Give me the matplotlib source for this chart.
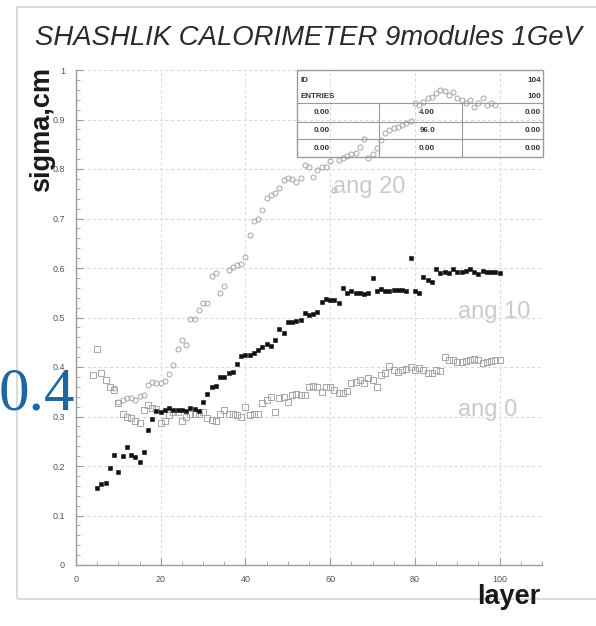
import matplotlib
matplotlib.use("Agg")
import matplotlib.pyplot as plt
from matplotlib.lines import Line2D
from matplotlib.patches import Rectangle

# ---------------- data ----------------
title = "SHASHLIK CALORIMETER 9modules 1GeV"
x_label = "layer"
y_label = "sigma,cm"
x_ticks = [0, 20, 40, 60, 80, 100]
y_ticks = [0, 0.1, 0.2, 0.3, 0.4, 0.5, 0.6, 0.7, 0.8, 0.9, 1.0]
y_tick_labels = ["0", "0.1", "0.2", "0.3", "0.4", "0.5", "0.6", "0.7", "0.8", "0.9", "1"]

ang10_layers = list(range(5, 101))
ang10_sigma = [
    0.155, 0.164, 0.166, 0.195, 0.222, 0.187, 0.221, 0.239, 0.222, 0.218,
    0.209, 0.229, 0.273, 0.294, 0.311, 0.310, 0.313, 0.318, 0.313, 0.313,
    0.314, 0.312, 0.318, 0.316, 0.311, 0.330, 0.345, 0.360, 0.361, 0.379,
    0.380, 0.387, 0.390, 0.407, 0.422, 0.424, 0.424, 0.428, 0.434, 0.441,
    0.446, 0.442, 0.455, 0.476, 0.468, 0.491, 0.491, 0.493, 0.495, 0.510,
    0.505, 0.508, 0.512, 0.532, 0.537, 0.536, 0.536, 0.529, 0.559, 0.549,
    0.554, 0.550, 0.550, 0.548, 0.549, 0.580, 0.554, 0.557, 0.554, 0.553,
    0.555, 0.555, 0.555, 0.553, 0.621, 0.553, 0.549, 0.582, 0.575, 0.572,
    0.597, 0.590, 0.591, 0.589, 0.597, 0.592, 0.592, 0.594, 0.597, 0.592,
    0.588, 0.594, 0.592, 0.592, 0.592, 0.590,
]

ang0_layers = list(range(4, 101))
ang0_sigma = [
    0.384, 0.436, 0.387, 0.374, 0.360, 0.354, 0.328, 0.306, 0.300, 0.297,
    0.290, 0.286, 0.313, 0.323, 0.318, 0.315, 0.286, 0.290, 0.303, 0.310,
    0.310, 0.290, 0.300, 0.306, 0.306, 0.306, 0.310, 0.296, 0.293, 0.290,
    0.306, 0.313, 0.306, 0.306, 0.303, 0.300, 0.320, 0.303, 0.306, 0.306,
    0.327, 0.333, 0.340, 0.310, 0.338, 0.340, 0.330, 0.343, 0.345, 0.343,
    0.343, 0.360, 0.362, 0.360, 0.350, 0.360, 0.360, 0.354, 0.347, 0.347,
    0.352, 0.367, 0.370, 0.374, 0.367, 0.377, 0.374, 0.360, 0.384, 0.387,
    0.402, 0.394, 0.390, 0.394, 0.396, 0.400, 0.394, 0.397, 0.394, 0.387,
    0.387, 0.394, 0.391, 0.421, 0.414, 0.414, 0.411, 0.411, 0.413, 0.415,
    0.416, 0.414, 0.409, 0.411, 0.412, 0.414, 0.414,
]

ang20_layers = list(range(9, 100))
ang20_sigma = [
    0.357, 0.330, 0.333, 0.337, 0.337, 0.333, 0.341, 0.343, 0.364, 0.370,
    0.367, 0.367, 0.372, 0.385, 0.404, 0.436, 0.455, 0.445, 0.496, 0.497,
    0.515, 0.530, 0.530, 0.583, 0.590, 0.550, 0.563, 0.596, 0.603, 0.607,
    0.609, 0.623, 0.667, 0.694, 0.700, 0.717, 0.741, 0.747, 0.752, 0.761,
    0.778, 0.781, 0.780, 0.774, 0.781, 0.808, 0.805, 0.784, 0.798, 0.805,
    0.805, 0.816, 0.757, 0.818, 0.822, 0.826, 0.831, 0.833, 0.845, 0.861,
    0.822, 0.830, 0.842, 0.859, 0.872, 0.878, 0.882, 0.885, 0.889, 0.892,
    0.896, 0.933, 0.929, 0.936, 0.943, 0.945, 0.953, 0.960, 0.957, 0.949,
    0.955, 0.943, 0.940, 0.933, 0.940, 0.926, 0.933, 0.943, 0.930, 0.933,
    0.930,
]

curve_labels = ["ang 20", "ang 10", "ang 0"]
curve_label_pos = [(60.6, 0.764), (90.1, 0.511), (90.1, 0.313)]

stats_header = [("ID", "104"), ("ENTRIES", "100")]
stats_rows = [["0.00", "4.00", "0.00"],
              ["0.00", "96.0", "0.00"],
              ["0.00", "0.00", "0.00"]]

overlay_text = "0.4"

# ---------------- figure ----------------
W, H = 596, 626
fig = plt.figure(figsize=(W / 100, H / 100), dpi=100)
fig.patch.set_facecolor("white")


def fx(px):
    return px / W


def fy(py):
    return 1 - py / H


# outer frame
fig.add_artist(Rectangle((fx(17), fy(599)), fx(596 + 5) - fx(17), fy(7) - fy(599),
                         transform=fig.transFigure, fill=False,
                         edgecolor="#d4d4d4", linewidth=1.2))

ax = fig.add_axes([fx(76), fy(565), fx(542) - fx(76), fy(70) - fy(565)])
ax.set_xlim(0, 110)
ax.set_ylim(0, 1.0)

ax.plot(ang20_layers, ang20_sigma, linestyle="none", marker="o", markersize=3.6,
        markerfacecolor="none", markeredgecolor="#a6a6a6", markeredgewidth=0.7)
ax.plot(ang0_layers, ang0_sigma, linestyle="none", marker="s", markersize=4.5,
        markerfacecolor="none", markeredgecolor="#a6a6a6", markeredgewidth=0.7)
ax.plot(ang10_layers, ang10_sigma, linestyle="none", marker="s", markersize=2.6,
        markerfacecolor="#111111", markeredgecolor="#111111", markeredgewidth=0.4)

for lab, (lx, ly) in zip(curve_labels, curve_label_pos):
    ax.text(lx, ly, lab, fontsize=17, color="#cacaca", family="Liberation Sans",
            ha="left", va="center")

ax.set_xticks(x_ticks)
ax.set_xticks(list(range(0, 111, 5)), minor=True)
ax.set_yticks(y_ticks)
ax.set_yticklabels(y_tick_labels)
ax.set_yticks([i * 0.02 for i in range(51)], minor=True)

ax.tick_params(axis="both", which="both", direction="in", colors="#999999",
               labelcolor="#555555", labelsize=6.5)
ax.tick_params(axis="both", which="major", length=5, width=0.8)
ax.tick_params(axis="both", which="minor", length=3, width=0.6)
ax.tick_params(axis="y", pad=8)
ax.tick_params(axis="x", pad=7)
for lbl in ax.get_xticklabels() + ax.get_yticklabels():
    lbl.set_family("Liberation Sans")

ax.grid(True, which="major", color="#dcdcdc", linestyle=(0, (3, 2)), linewidth=0.8)
ax.set_axisbelow(True)

for s in ["top", "right"]:
    ax.spines[s].set_visible(False)
for s in ["left", "bottom"]:
    ax.spines[s].set_color("#9a9a9a")
    ax.spines[s].set_linewidth(1.0)

# title & axis labels
fig.text(fx(308), fy(38), title, fontsize=19.8, style="italic", family="Liberation Sans",
         color="#2a2a2a", ha="center", va="center")
fig.text(fx(42), fy(130), y_label, fontsize=19.5, fontweight="bold", family="Liberation Sans",
         color="#1a1a1a", rotation=90, ha="center", va="center")
fig.text(fx(540), fy(597), x_label, fontsize=19.5, fontweight="bold", family="Liberation Sans",
         color="#1a1a1a", ha="right", va="center")

# stats box
L, R, T, B = 297, 543, 70, 157
lc = "#9a9a9a"
fig.add_artist(Rectangle((fx(L), fy(B)), fx(R) - fx(L), fy(T) - fy(B),
                         transform=fig.transFigure, fill=False, edgecolor=lc, linewidth=1.0))
for yy in [103, 122, 139]:
    fig.add_artist(Line2D([fx(L), fx(R)], [fy(yy), fy(yy)], transform=fig.transFigure,
                          color=lc, linewidth=0.8))
for xx in [379, 462]:
    fig.add_artist(Line2D([fx(xx), fx(xx)], [fy(103), fy(B)], transform=fig.transFigure,
                          color=lc, linewidth=0.8))
sfont = dict(fontsize=5.8, family="Liberation Sans", color="#333333", fontweight="bold")
for i, (k, v) in enumerate(stats_header):
    yy = 80 + i * 16
    fig.text(fx(300), fy(yy), k, ha="left", va="center", **sfont)
    fig.text(fx(541), fy(yy), v, ha="right", va="center", **sfont)
for i, row in enumerate(stats_rows):
    yy = 113 + i * 17.5
    fig.text(fx(322), fy(yy), row[0], ha="center", va="center", **sfont)
    fig.text(fx(435), fy(yy), row[1], ha="right", va="center", **sfont)
    fig.text(fx(541), fy(yy), row[2], ha="right", va="center", **sfont)

# overlay text
fig.text(fx(-1), fy(410), overlay_text, fontsize=44, family="Liberation Serif",
         color="#1c67a3", ha="left", va="baseline")

fig.savefig("out.png", dpi=100)
